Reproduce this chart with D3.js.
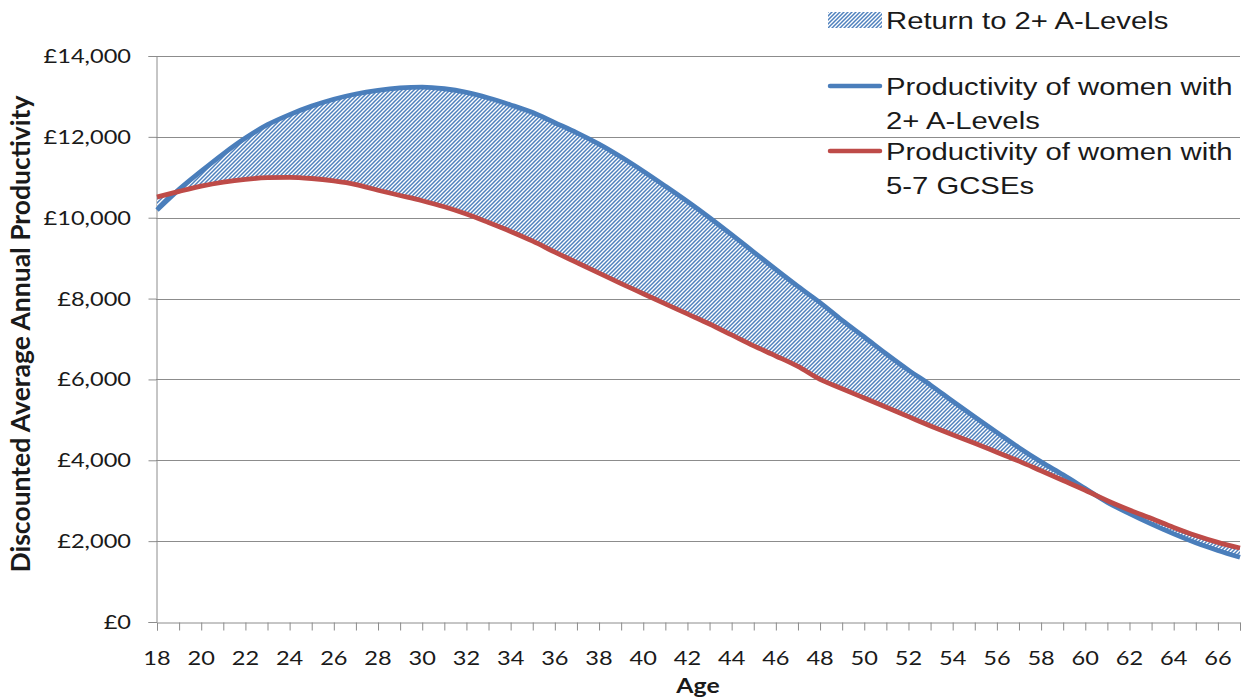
<!DOCTYPE html>
<html>
<head>
<meta charset="utf-8">
<script src="https://cdn.jsdelivr.net/npm/d3@7"></script>
<style>
  body { margin: 0; background: #fff; }
  text { fill: #1a1a1a; }
</style>
</head>
<body>
<svg id="chart" width="1245" height="700"></svg>
<script>
// Age categories (years)
const ages = [18,19,20,21,22,23,24,25,26,27,28,29,30,31,32,33,34,35,36,37,38,39,40,41,42,
              43,44,45,46,47,48,49,50,51,52,53,54,55,56,57,58,59,60,61,62,63,64,65,66,67];

// Discounted average annual productivity, women with 2+ A-Levels (£)
const aLevels = [10190,10700,11150,11580,11970,12300,12550,12760,12930,13060,13150,13210,13230,
                 13190,13100,12960,12790,12600,12350,12100,11820,11500,11150,10780,10400,10000,
                 9580,9150,8720,8300,7900,7460,7050,6630,6230,5860,5460,5070,4690,4310,3960,
                 3640,3300,2960,2680,2420,2180,1960,1770,1600];

// Discounted average annual productivity, women with 5-7 GCSEs (£)
const gcses = [10510,10650,10780,10880,10950,10990,11000,10970,10910,10820,10680,10550,10420,
               10270,10090,9880,9660,9420,9150,8890,8630,8370,8120,7870,7620,7370,7100,6830,
               6580,6320,6000,5770,5540,5310,5080,4850,4630,4420,4200,3980,3740,3500,3260,3000,
               2770,2560,2340,2140,1970,1830];

const yTickValues = [0,2000,4000,6000,8000,10000,12000,14000];
const xLabelAges = [18,20,22,24,26,28,30,32,34,36,38,40,42,44,46,48,50,52,54,56,58,60,62,64,66];

const legendItems = [
  { kind: "hatch", lines: ["Return to 2+ A-Levels"] },
  { kind: "line", color: "#4A7EBB", lines: ["Productivity of women with", "2+ A-Levels"] },
  { kind: "line", color: "#BE4B48", lines: ["Productivity of women with", "5-7 GCSEs"] }
];

const blue = "#4A7EBB", red = "#BE4B48", axisGrey = "#8C8C8C";
const SX = 1.18;               // horizontal text stretch for axis labels
const SXL = 1.22;              // horizontal text stretch for legend labels
const tickFont = "Lato, 'Open Sans', sans-serif";
const legendFont = "'Liberation Sans', Arial, sans-serif";

const svg = d3.select("#chart");
const plot = { left: 156, right: 1240, top: 56, bottom: 622 };

const x = d3.scaleLinear().domain([18, 67]).range([plot.left + 1, plot.right]);
const y = d3.scaleLinear().domain([0, 14000]).range([plot.bottom, plot.top]);

// hatch pattern for the gap between the two curves
const defs = svg.append("defs");
const pat = defs.append("pattern")
  .attr("id", "hatch").attr("patternUnits", "userSpaceOnUse")
  .attr("width", 4).attr("height", 4);
pat.append("rect").attr("width", 4).attr("height", 4).attr("fill", "#fff");
pat.append("path")
  .attr("d", "M-1,1 L1,-1 M0,4 L4,0 M3,5 L5,3")
  .attr("stroke", "#4F81BD").attr("stroke-width", 1.5);

// horizontal gridlines
svg.append("g").selectAll("line")
  .data(yTickValues.filter(v => v > 0))
  .join("line")
  .attr("x1", plot.left).attr("x2", plot.right)
  .attr("y1", d => Math.round(y(d)) + 0.5).attr("y2", d => Math.round(y(d)) + 0.5)
  .attr("stroke", axisGrey).attr("stroke-width", 1);

// axes (lines + ticks)
const yAxis = svg.append("g")
  .attr("transform", `translate(${plot.left + 0.5},0)`)
  .call(d3.axisLeft(y).tickValues(yTickValues).tickSize(8).tickFormat(""));
const xAxis = svg.append("g")
  .attr("transform", `translate(0,${plot.bottom + 0.5})`)
  .call(d3.axisBottom(x).tickValues(ages).tickSize(8).tickFormat(""));
[yAxis, xAxis].forEach(g => {
  g.select(".domain").attr("stroke", axisGrey);
  g.selectAll(".tick line").attr("stroke", axisGrey);
});

// y tick labels
svg.append("g").selectAll("text")
  .data(yTickValues)
  .join("text")
  .attr("transform", d => `translate(131,${y(d)}) scale(${SX},1)`)
  .attr("dy", "0.35em")
  .attr("text-anchor", "end")
  .style("font-family", tickFont).style("font-size", "20px")
  .text(d => "£" + d3.format(",")(d));

// x tick labels
svg.append("g").selectAll("text")
  .data(xLabelAges)
  .join("text")
  .attr("transform", d => `translate(${x(d)},665) scale(${SX},1)`)
  .attr("text-anchor", "middle")
  .style("font-family", tickFont).style("font-size", "20px")
  .text(d => d);

// axis titles
svg.append("text")
  .attr("transform", `translate(${(plot.left + plot.right) / 2},693) scale(${SX},1)`)
  .attr("text-anchor", "middle")
  .style("font-family", tickFont).style("font-size", "21px").style("font-weight", "bold")
  .text("Age");
svg.append("text")
  .attr("transform", `translate(30,334) rotate(-90)`)
  .attr("text-anchor", "middle")
  .style("font-family", tickFont).style("font-size", "26.5px").style("font-weight", "bold")
  .text("Discounted Average Annual Productivity");

// hatched area between the curves
const curve = d3.curveMonotoneX;
svg.append("path")
  .datum(ages.map((a, i) => ({ a, hi: aLevels[i], lo: gcses[i] })))
  .attr("fill", "url(#hatch)")
  .attr("d", d3.area().curve(curve).x(d => x(d.a)).y0(d => y(d.lo)).y1(d => y(d.hi)));

// productivity curves
const line = d3.line().curve(curve).x((d, i) => x(ages[i])).y(d => y(d));
svg.append("path").datum(aLevels)
  .attr("fill", "none").attr("stroke", blue).attr("stroke-width", 4.8)
  .attr("stroke-linejoin", "round").attr("d", line);
svg.append("path").datum(gcses)
  .attr("fill", "none").attr("stroke", red).attr("stroke-width", 4.8)
  .attr("stroke-linejoin", "round").attr("d", line);

// legend
const legend = svg.append("g");
const symX = 828, symW = 54, textX = 886;
const rowY = [20, 86, 151];   // symbol centre for each entry
const lineGap = 34;
legendItems.forEach((item, k) => {
  const cy = rowY[k];
  if (item.kind === "hatch") {
    legend.append("rect")
      .attr("x", symX).attr("y", cy - 8).attr("width", symW).attr("height", 16)
      .attr("fill", "url(#hatch)");
  } else {
    legend.append("line")
      .attr("x1", symX + 2).attr("x2", symX + symW - 2)
      .attr("y1", cy).attr("y2", cy)
      .attr("stroke", item.color).attr("stroke-width", 4.5).attr("stroke-linecap", "round");
  }
  item.lines.forEach((t, j) => {
    legend.append("text")
      .attr("transform", `translate(${textX},${cy + 8.5 + j * lineGap}) scale(${SXL},1)`)
      .style("font-family", legendFont).style("font-size", "24px")
      .text(t);
  });
});
</script>
</body>
</html>
